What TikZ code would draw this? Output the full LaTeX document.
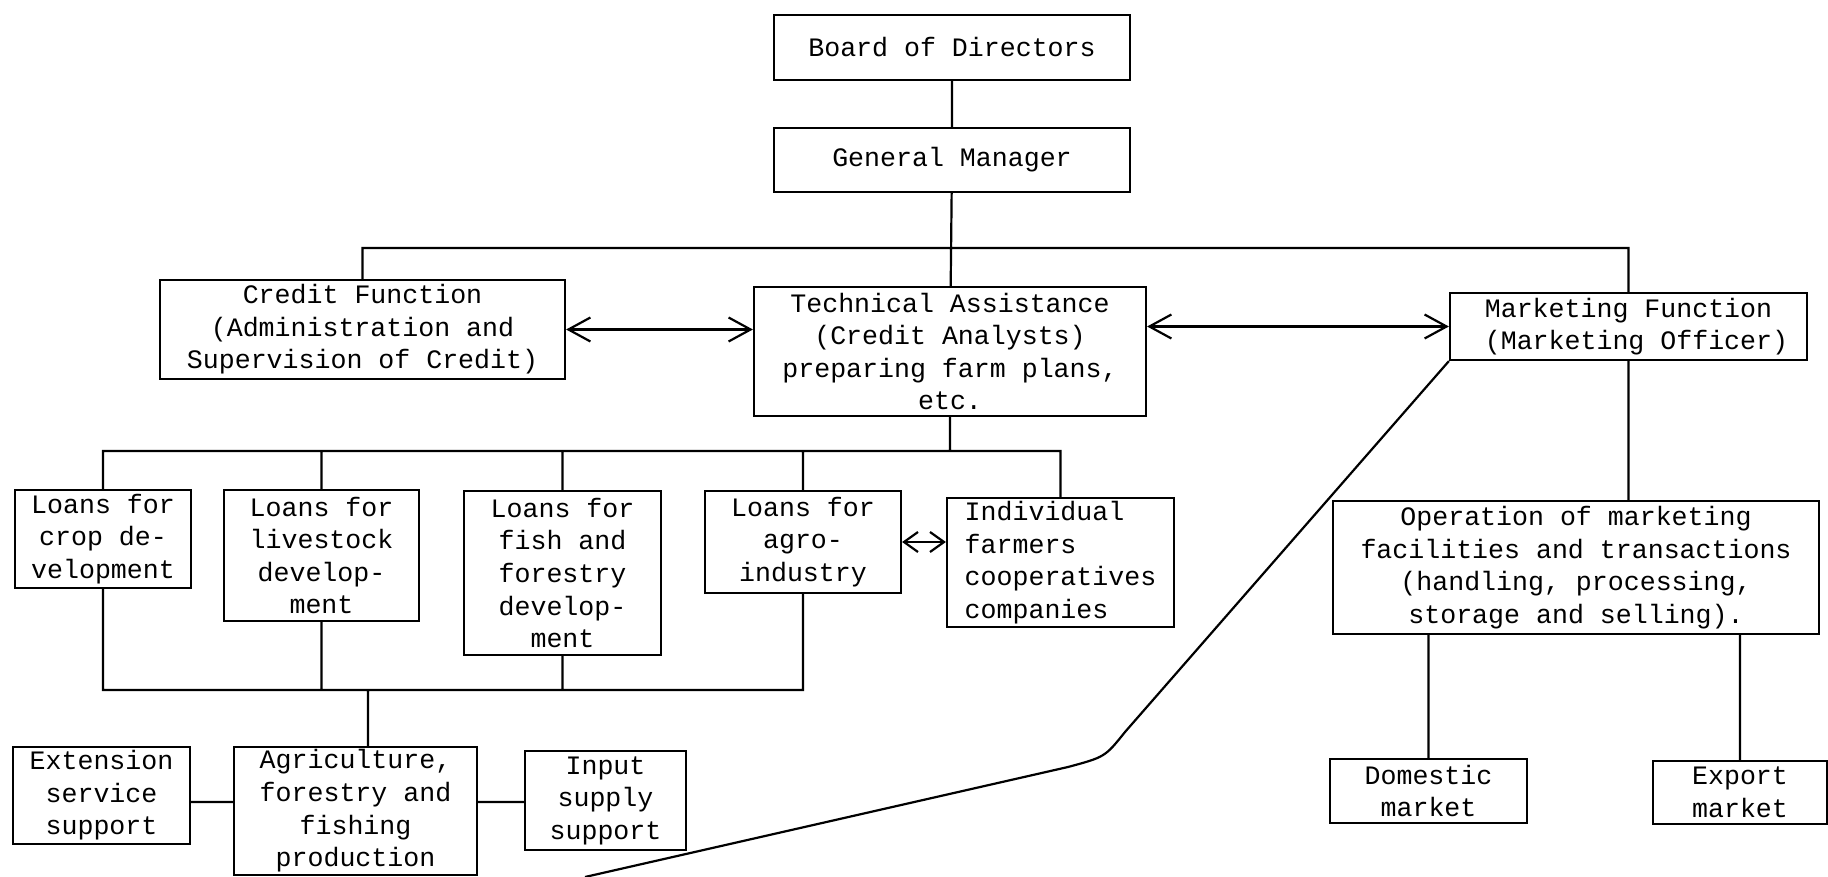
\documentclass[tikz,border=0pt]{standalone}
\usepackage{fontspec}
\setmonofont{Liberation Mono}
\usetikzlibrary{positioning, arrows.meta}

\tikzset{
	box/.style={draw, line width=1.1pt, align=center, inner sep=0pt,
		font=\ttfamily\fontsize{13.3}{16.3}\selectfont},
	link/.style={line width=1.1pt},
	both/.style={{Straight Barb[length=11pt,width=12pt]}-{Straight Barb[length=11pt,width=12pt]}},
	small both/.style={{Straight Barb[length=7pt,width=10pt]}-{Straight Barb[length=7pt,width=10pt]}},
}

\begin{document}
\begin{tikzpicture}[x=0.5pt, y=-0.5pt]
	\useasboundingbox (0,0) rectangle (1828,877);

	\node[box, minimum width=178pt, minimum height=32.5pt] (board) at (952,47.5) {Board of Directors};
	\node[box, minimum width=178pt, minimum height=32pt] (gm) at (952,160) {General Manager};
	\node[box, minimum width=202.5pt, minimum height=49.5pt] (credit) at (362.5,329.5) {Credit Function\\(Administration and\\Supervision of Credit)};
	\node[box, minimum width=196pt, minimum height=64.5pt] (tech) at (950,351.5) {Technical Assistance\\(Credit Analysts)\\preparing farm plans,\\etc.};
	\node[box, minimum width=178.5pt, minimum height=33.5pt] (mkt) at (1628.5,326.5) {Marketing Function\\~(Marketing Officer)};

	\node[box, minimum width=88pt, minimum height=49pt] (crop) at (103,539) {Loans for\\crop de-\\velopment};
	\node[box, minimum width=97.5pt, minimum height=65.5pt] (live) at (321.5,555.5) {Loans for\\livestock\\develop-\\ment};
	\node[box, minimum width=98.5pt, minimum height=82pt] (fish) at (562.5,573) {Loans for\\fish and\\forestry\\develop-\\ment};
	\node[box, minimum width=98pt, minimum height=51pt] (agro) at (803,542) {Loans for\\agro-\\industry};
	\node[box, align=left, minimum width=113.5pt, minimum height=64.5pt] (indiv) at (1060.5,562.5) {Individual\\farmers\\cooperatives\\companies};
	\node[box, minimum width=243pt, minimum height=66.5pt] (oper) at (1576,567.5) {Operation of marketing\\facilities and transactions\\(handling, processing,\\storage and selling).};

	\node[box, minimum width=88.5pt, minimum height=48.5pt] (ext) at (101.5,795.5) {Extension\\service\\support};
	\node[box, minimum width=121.5pt, minimum height=64pt] (agri) at (355.5,811) {Agriculture,\\forestry and\\fishing\\production};
	\node[box, minimum width=80.5pt, minimum height=49.5pt] (inp) at (605.5,800.5) {Input\\supply\\support};
	\node[box, minimum width=98.5pt, minimum height=32pt] (dom) at (1428.5,791) {Domestic\\market};
	\node[box, minimum width=87pt, minimum height=31.5pt] (export) at (1740,792.5) {Export\\market};

	% bus levels
	\coordinate (topbus) at (952,248);
	\coordinate (midbus) at (950,451);
	\coordinate (lowbus) at (368,690);
	\coordinate (sidebar) at (0,802);

	\draw[link]
		(board) -- (gm)
		(gm) -- (tech)
		(credit.north) |- (topbus) -| (mkt.north)
		(tech.south) -- (midbus)
		(crop.north) |- (midbus) -| (indiv.north)
		(live.north) -- (live.north |- midbus)
		(fish.north) -- (fish.north |- midbus)
		(agro.north) -- (agro.north |- midbus)
		(crop.south) |- (lowbus) -| (agro.south)
		(live.south) -- (live.south |- lowbus)
		(fish.south) -- (fish.south |- lowbus)
		(lowbus) -- (lowbus |- agri.north)
		(ext.east |- sidebar) -- (agri.west |- sidebar)
		(agri.east |- sidebar) -- (inp.west |- sidebar)
		(mkt.south) -- (mkt.south |- oper.north)
		(dom.north) -- (dom.north |- oper.south)
		(export.north) -- (export.north |- oper.south)
		;

	\draw[link, both] (credit.east) -- (credit.east -| tech.west);
	\draw[link, both] (mkt.west -| tech.east) -- (mkt.west);
	\draw[link, small both] (agro.east) -- (agro.east -| indiv.west);

	% long line from marketing
	\coordinate (bendA) at (1125,732);
	\coordinate (bendB) at (1068,767);
	\coordinate (curveEnd) at (585,877);
	\draw[link] (mkt.south west) -- (bendA) .. controls (1105,757) .. (bendB) -- (curveEnd);
\end{tikzpicture}
\end{document}
